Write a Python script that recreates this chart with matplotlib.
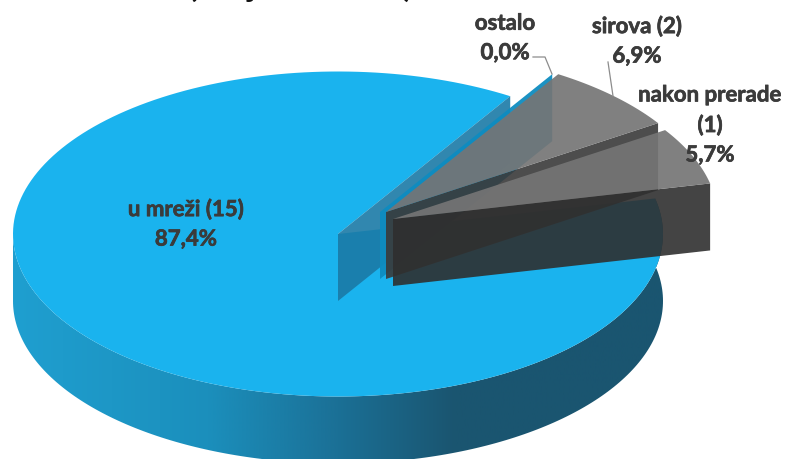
import matplotlib
matplotlib.use("Agg")
import matplotlib.pyplot as plt
import matplotlib.patheffects as pe
from matplotlib.colors import LinearSegmentedColormap
from matplotlib.patches import Polygon
import numpy as np

# share of each group in %, order is clockwise from the cut at the upper right
names = ["u mreži (15)", "ostalo", "sirova (2)", "nakon prerade\n(1)"]
shares = [87.4, 0.0, 6.9, 5.7]
share_labels = ["87,4%", "0,0%", "6,9%", "5,7%"]

# pie geometry in pixels
rx = 325
ry = 162.5
depth = 67
start_angle = 58
apexes = [(338, 235), (380, 213), (386, 213), (393, 220)]

plt.rcParams["font.family"] = ["Lato", "DejaVu Sans"]
fig = plt.figure(figsize=(7.85, 4.6), dpi=100)
ax = fig.add_axes([0, 0, 1, 1])
ax.set_xlim(0, 785)
ax.set_ylim(460, 0)
ax.axis("off")


def rim(apex, a0, a1):
    a = np.radians(np.linspace(a0, a1, 200))
    return np.column_stack((apex[0] + rx * np.cos(a), apex[1] - ry * np.sin(a)))


def wall(apex, angle, color, alpha, z):
    edge = rim(apex, angle, angle)[0]
    pts = [apex, edge, (edge[0], edge[1] + depth), (apex[0], apex[1] + depth)]
    ax.add_patch(Polygon(pts, closed=True, fc=color, ec="none", alpha=alpha, zorder=z))


# angle boundaries come from the shares, the big slice runs round the long way
a_blue_end = start_angle + shares[0] * 3.6
a_sirova_end = start_angle - shares[2] * 3.6
a_nakon_end = a_sirova_end - shares[3] * 3.6

# outer side of the big slice with left-right shading
front = rim(apexes[0], 180, a_blue_end)
side = np.vstack((front, (front + [0, depth])[::-1]))
side_patch = Polygon(side, closed=True, fc="none", ec="none")
ax.add_patch(side_patch)
shade = LinearSegmentedColormap.from_list(
    "side", [(0, "#1f9fd0"), (0.3, "#1b8fbc"), (0.5, "#1b7096"), (0.68, "#1a5570"), (1, "#1a5570")])
img = ax.imshow(np.linspace(0, 1, 256).reshape(1, -1), cmap=shade, aspect="auto",
                extent=(13, 663, 460, 0), zorder=1)
img.set_clip_path(side_patch)
ax.set_xlim(0, 785)
ax.set_ylim(460, 0)

# top of the big slice
top = np.vstack(([apexes[0]], rim(apexes[0], start_angle, a_blue_end)))
ax.add_patch(Polygon(top, closed=True, fc="#1ab3ee", ec="none", zorder=2))
wall(apexes[0], start_angle, "#1a7aa6", 0.9, 3)

# ostalo has no width, only its cut face shows
wall(apexes[1], start_angle, "#0e8cc0", 0.95, 4)

# sirova
wall(apexes[2], a_sirova_end, "#3a3a3a", 0.9, 5)
top = np.vstack(([apexes[2]], rim(apexes[2], start_angle, a_sirova_end)))
ax.add_patch(Polygon(top, closed=True, fc="#757575", ec="none", alpha=0.92, zorder=6))

# nakon prerade
wall(apexes[3], a_nakon_end, "#2f2f2f", 0.9, 7)
top = np.vstack(([apexes[3]], rim(apexes[3], a_sirova_end, a_nakon_end)))
ax.add_patch(Polygon(top, closed=True, fc="#757575", ec="none", alpha=0.92, zorder=8))

# leader lines
ax.plot([533, 545, 552], [58, 58, 75], color="#8c8c8c", lw=0.9, zorder=9)
ax.plot([608, 613], [63, 97], color="#8c8c8c", lw=0.9, zorder=9)

heavy = [pe.withStroke(linewidth=0.5, foreground="#3b3b3b")]
label_pos = [(186, 225), (505, 39), (637, 42), (710, 126)]
for name, pct, pos in zip(names, share_labels, label_pos):
    ax.text(pos[0], pos[1], name + "\n" + pct, ha="center", va="center", fontsize=16,
            fontweight="bold", color="#3b3b3b", linespacing=1.5, zorder=10, path_effects=heavy)

# title sits above the crop, only its lowest bits show
ax.text(300, -3.5, "(broj elektrana)", ha="center", va="baseline", fontsize=24,
        fontweight="bold", color="#111111", clip_on=True)

fig.savefig("out.png", dpi=100)
